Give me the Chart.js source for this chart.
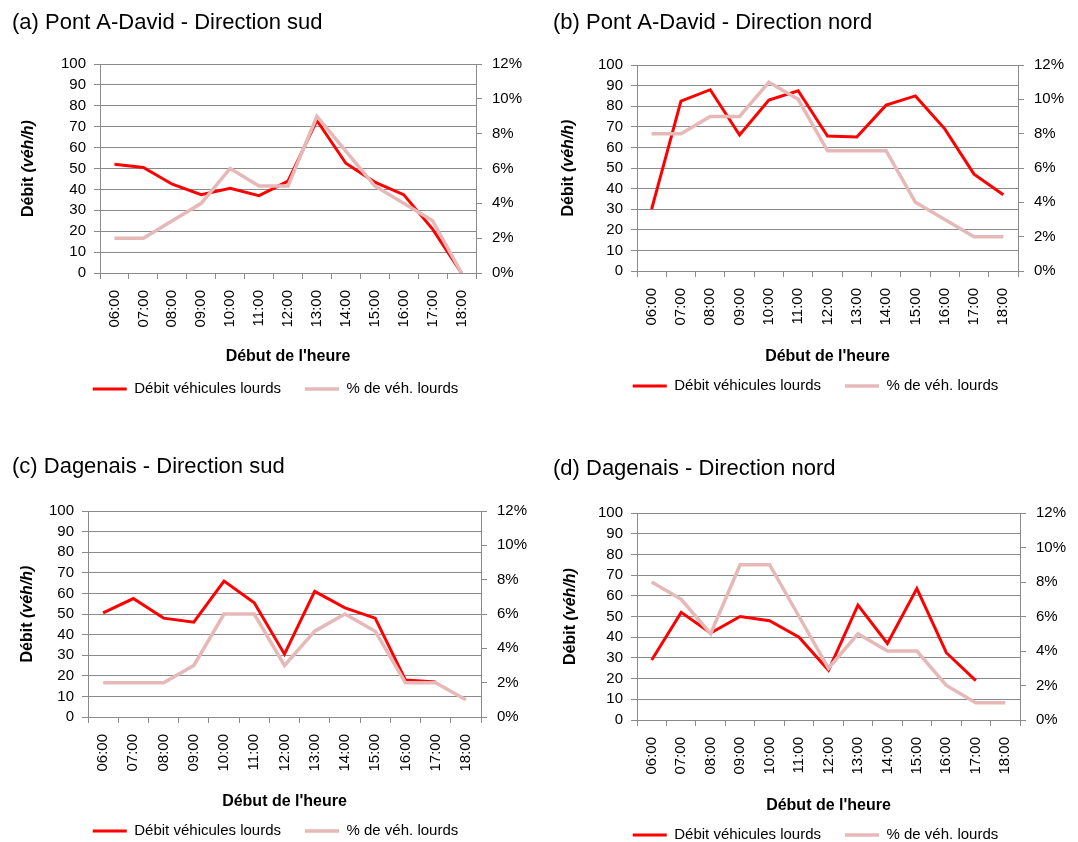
<!DOCTYPE html>
<html>
<head>
<meta charset="utf-8">
<script src="https://cdn.jsdelivr.net/npm/chart.js@4.4.1/dist/chart.umd.min.js"></script>
<style>
  html, body { margin: 0; padding: 0; background: #fff; overflow: hidden; }
  .panel { position: absolute; width: 539px; height: 421px; }
</style>
</head>
<body>
<div class="panel" style="left:0;top:0"><canvas id="chartA" width="539" height="421"></canvas></div>
<div class="panel" style="left:539px;top:0"><canvas id="chartB" width="539" height="421"></canvas></div>
<div class="panel" style="left:0;top:440px"><canvas id="chartC" width="539" height="421"></canvas></div>
<div class="panel" style="left:539px;top:440px"><canvas id="chartD" width="539" height="421"></canvas></div>
<script>
// hour of day (x axis)
const hours = ['06:00', '07:00', '08:00', '09:00', '10:00', '11:00', '12:00',
               '13:00', '14:00', '15:00', '16:00', '17:00', '18:00'];

// (a) Pont A-David - Direction sud
const debitA = [52, 50.5, 42.5, 37.5, 40.5, 37, 44, 73, 52.5, 43.5, 37.5, 21, 0];
const pctA   = [2, 2, 3, 4, 6, 5, 5, 9, 7, 5, 4, 3, 0];

// (b) Pont A-David - Direction nord
const debitB = [30, 82.5, 88, 66, 83, 87.5, 65.5, 65, 80.5, 85, 69, 47, 37];
const pctB   = [8, 8, 9, 9, 11, 10, 7, 7, 7, 4, 3, 2, 2];

// (c) Dagenais - Direction sud
const debitC = [50.5, 57.5, 48, 46, 66, 55.5, 30.5, 61, 53, 48, 18, 17, null];
const pctC   = [2, 2, 2, 3, 6, 6, 3, 5, 6, 5, 2, 2, 1];

// (d) Dagenais - Direction nord
const debitD = [29, 52, 42, 50, 48, 40, 24, 55.5, 37, 63.5, 32.5, 19, null];
const pctD   = [8, 7, 5, 9, 9, 6, 3, 5, 4, 4, 2, 1, 1];

const RED = '#ff0000';
const PINK = '#e6b9b8';
const GRID = '#8a8a8a';
const FONT = "'Liberation Sans', Arial, sans-serif";
const TICK_SIZE = 15;
const TITLE_SIZE = 22;
const LEG_SIZE = 15;
const LEG_PAD = 24;
const PANEL_W = 539, PANEL_H = 421;

// y axis title with an italic unit part
const yTitlePlugin = {
  id: 'yTitle',
  afterDraw(chart, args, opts) {
    const ctx = chart.ctx;
    const area = chart.chartArea;
    ctx.save();
    ctx.translate(opts.x, (area.top + area.bottom) / 2);
    ctx.rotate(-Math.PI / 2);
    const f1 = 'bold 16px ' + FONT;
    const f2 = 'italic bold 16px ' + FONT;
    ctx.font = f1;
    const w1 = ctx.measureText('Débit ').width;
    ctx.font = f2;
    const w2 = ctx.measureText('(véh/h)').width;
    const x0 = -(w1 + w2) / 2;
    ctx.fillStyle = '#000';
    ctx.textBaseline = 'middle';
    ctx.textAlign = 'left';
    ctx.font = f1;
    ctx.fillText('Débit ', x0, 0);
    ctx.font = f2;
    ctx.fillText('(véh/h)', x0 + w1, 0);
    ctx.restore();
  }
};

function makePanel(id, title, debit, pct, g) {
  // page coordinates -> panel coordinates
  const titleLH = TITLE_SIZE * 1.2;
  const titlePadTop = g.titleY - g.top - titleLH / 2;
  const titlePadBottom = g.plot.t - g.top - titlePadTop - titleLH;
  const leftW = g.plot.l - g.left - g.padLeft;
  const rightW = PANEL_W - (g.plot.r - g.left);
  const legendTop = g.legendY - g.top - LEG_PAD - LEG_SIZE / 2;
  const xH = legendTop - (g.plot.b - g.top);
  const xTitlePad = legendTop - (g.xTitleY - g.top) - 16 * 1.2 / 2;
  const legendH = LEG_SIZE + LEG_PAD + 10;
  const padBottom = PANEL_H - legendTop - legendH;

  const ctx = document.getElementById(id).getContext('2d');
  return new Chart(ctx, {
    type: 'line',
    data: {
      labels: hours,
      datasets: [
        {
          label: 'Débit véhicules lourds',
          data: debit,
          yAxisID: 'y',
          borderColor: RED,
          backgroundColor: RED,
          borderWidth: 3,
          pointRadius: 0,
          tension: 0,
          order: 1
        },
        {
          label: '% de véh. lourds',
          data: pct,
          yAxisID: 'y1',
          borderColor: PINK,
          backgroundColor: PINK,
          borderWidth: 3.5,
          pointRadius: 0,
          tension: 0,
          order: 0
        }
      ]
    },
    options: {
      responsive: false,
      animation: false,
      layout: { padding: { left: g.padLeft, right: 0, top: 0, bottom: padBottom } },
      scales: {
        x: {
          offset: true,
          grid: { drawOnChartArea: false, drawTicks: true, tickLength: 6, offset: true, color: GRID },
          border: { color: GRID },
          ticks: {
            autoSkip: false, minRotation: 90, maxRotation: 90, padding: 11,
            color: '#000', font: { family: FONT, size: TICK_SIZE }
          },
          title: {
            display: true, text: "Début de l'heure", color: '#000',
            font: { family: FONT, size: 16, weight: 'bold' },
            padding: { top: 0, bottom: xTitlePad }
          },
          afterFit(s) { s.height = xH; }
        },
        y: {
          position: 'left',
          min: 0, max: 100,
          grid: { color: GRID, tickLength: 6 },
          border: { color: GRID },
          ticks: {
            stepSize: 10, autoSkip: false, padding: 8, color: '#000',
            font: { family: FONT, size: TICK_SIZE }
          },
          afterFit(s) { s.width = leftW; }
        },
        y1: {
          position: 'right',
          min: 0, max: 12,
          grid: { drawOnChartArea: false, tickLength: 6, color: GRID },
          border: { color: GRID },
          ticks: {
            stepSize: 2, autoSkip: false, padding: 10, color: '#000',
            font: { family: FONT, size: TICK_SIZE },
            callback: v => v + '%'
          },
          afterFit(s) { s.width = rightW; }
        }
      },
      plugins: {
        title: {
          display: true, text: title, align: 'start', color: '#000',
          font: { family: FONT, size: TITLE_SIZE, weight: 'normal' },
          padding: { top: titlePadTop, bottom: titlePadBottom }
        },
        legend: {
          position: 'bottom',
          labels: {
            usePointStyle: true, pointStyle: 'line', pointStyleWidth: 34,
            padding: LEG_PAD, color: '#000',
            font: { family: FONT, size: LEG_SIZE },
            sort: (a, b) => a.datasetIndex - b.datasetIndex
          }
        },
        tooltip: { enabled: false },
        yTitle: { x: g.yTitleX - g.left }
      }
    },
    plugins: [yTitlePlugin]
  });
}

makePanel('chartA', '(a) Pont A-David - Direction sud', debitA, pctA, {
  left: 0, top: 0, padLeft: 12, titleY: 23,
  plot: { l: 100, t: 64, r: 476, b: 273 },
  xTitleY: 357, legendY: 389, yTitleX: 29
});
makePanel('chartB', '(b) Pont A-David - Direction nord', debitB, pctB, {
  left: 539, top: 0, padLeft: 14, titleY: 23,
  plot: { l: 637, t: 65, r: 1018, b: 271 },
  xTitleY: 357, legendY: 386, yTitleX: 569
});
makePanel('chartC', '(c) Dagenais - Direction sud', debitC, pctC, {
  left: 0, top: 440, padLeft: 12, titleY: 467,
  plot: { l: 88, t: 511, r: 481, b: 717 },
  xTitleY: 802, legendY: 831, yTitleX: 28
});
makePanel('chartD', '(d) Dagenais - Direction nord', debitD, pctD, {
  left: 539, top: 440, padLeft: 14, titleY: 469,
  plot: { l: 637, t: 513, r: 1020, b: 720 },
  xTitleY: 806, legendY: 835, yTitleX: 571
});
</script>
</body>
</html>
